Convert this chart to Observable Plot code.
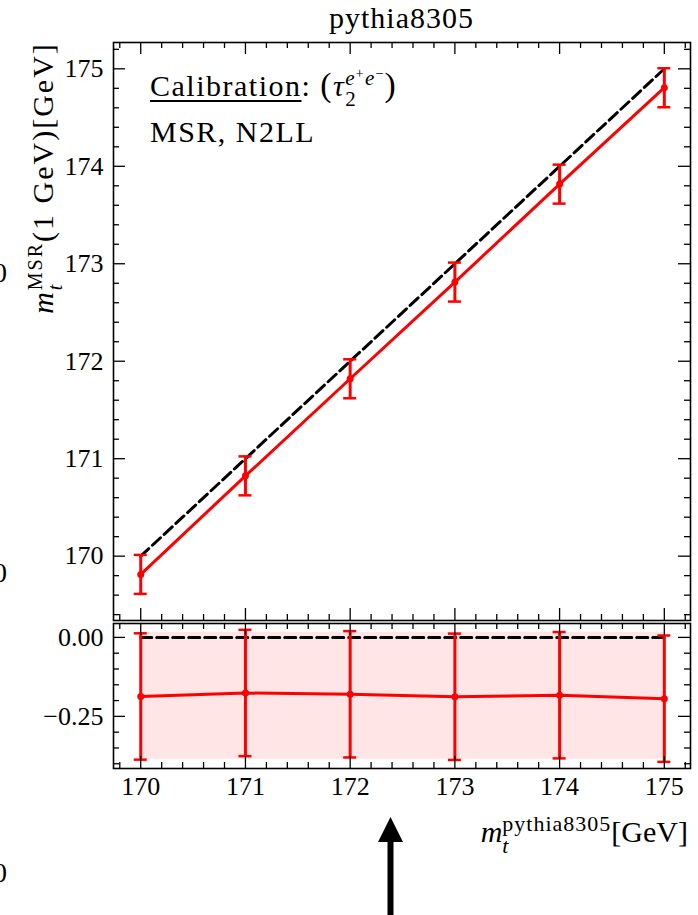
<!DOCTYPE html>
<html>
<head>
<meta charset="utf-8">
<script src="https://cdn.jsdelivr.net/npm/d3@7"></script>
<script src="https://cdn.jsdelivr.net/npm/@observablehq/plot@0.6"></script>
<style>
html, body { margin: 0; padding: 0; overflow: hidden; background: #fff; }
#wrap { position: relative; width: 698px; height: 915px; overflow: hidden;
  font-family: 'Liberation Serif', serif; color: #000; }
.abs { position: absolute; white-space: nowrap; line-height: 1; }
.ss { display: inline-flex; flex-direction: column; line-height: 1; position: relative; vertical-align: baseline; }
.up { position: relative; font-size: 0.7em; top: -0.45em; }
</style>
</head>
<body>
<div id="wrap"></div>
<script>
// ---- data ----
const massIn   = [170, 171, 172, 173, 174, 175];                       // m_t^pythia8305 [GeV]
const massCal  = [169.813, 170.824, 171.82, 172.812, 173.817, 174.806]; // calibrated MSR mass
const massErr  = [0.2, 0.2, 0.2, 0.2, 0.2, 0.2];
const diff     = [-0.187, -0.176, -0.18, -0.188, -0.183, -0.194];       // lower panel
const diffErr  = [0.2, 0.2, 0.2, 0.2, 0.2, 0.2];
const bandLow  = -0.386;
const bandHigh = 0.016;
const xTicks      = [170, 171, 172, 173, 174, 175];
const yTopTicks   = [170, 171, 172, 173, 174, 175];
const yBotTicks   = [0, -0.25];

// ---- layout ----
const W = 698, ML = 113, MR = 8;
const FW = W - ML - MR;
const xDomain = [169.74, 175.25];
const yTopDomain = [169.34, 175.27];
const yBotDomain = [-0.415, 0.044];
const RED = "#ff0000";

const rows = massIn.map((m, i) => ({m, cal: massCal[i], err: massErr[i], d: diff[i], de: diffErr[i]}));

const rnd = v => Math.round(v * 1000) / 1000;
const xMinor = d3.range(169.8, 175.21, 0.2).map(rnd).filter(v => !xTicks.includes(v));
const yTopMinor = d3.range(169.4, 175.21, 0.2).map(rnd).filter(v => !yTopTicks.includes(v));
const yBotMinor = d3.range(-0.4, 0.001, 0.05).map(rnd).filter(v => !yBotTicks.includes(v));

function frameTicks(xs, ys, fh, len) {
  const o = {stroke: "black", strokeWidth: 1.3};
  return [
    Plot.tickY(ys, {y: d => d, insetRight: FW - len, ...o}),
    Plot.tickY(ys, {y: d => d, insetLeft: FW - len, ...o}),
    Plot.tickX(xs, {x: d => d, insetBottom: fh - len, ...o}),
    Plot.tickX(xs, {x: d => d, insetTop: fh - len, ...o})
  ];
}

const style = {background: "transparent", fontFamily: "'Liberation Serif', serif", fontSize: "26px", overflow: "visible", color: "black"};
const DASH = {stroke: "black", strokeWidth: 3, strokeDasharray: "11,5"};

// ---- top panel ----
const topH = 622, topMT = 42, topMB = 2;
const topFH = topH - topMT - topMB;
const topPlot = Plot.plot({
  width: W, height: topH, marginLeft: ML, marginRight: MR, marginTop: topMT, marginBottom: topMB,
  x: {domain: xDomain, axis: null},
  y: {domain: yTopDomain},
  style,
  marks: [
    Plot.line(massIn, {x: d => d, y: d => d, ...DASH}),
    Plot.line(rows, {x: "m", y: "cal", stroke: RED, strokeWidth: 3}),
    Plot.ruleX(rows, {x: "m", y1: d => d.cal - d.err, y2: d => d.cal + d.err, stroke: RED, strokeWidth: 3}),
    Plot.ruleY(rows, {y: d => d.cal + d.err, x1: "m", x2: "m", insetLeft: -6.5, insetRight: -6.5, stroke: RED, strokeWidth: 2.5}),
    Plot.ruleY(rows, {y: d => d.cal - d.err, x1: "m", x2: "m", insetLeft: -6.5, insetRight: -6.5, stroke: RED, strokeWidth: 2.5}),
    Plot.dot(rows, {x: "m", y: "cal", r: 3.5, fill: RED}),
    ...frameTicks(xTicks, yTopTicks, topFH, 12),
    ...frameTicks(xMinor, yTopMinor, topFH, 6),
    Plot.axisY({ticks: yTopTicks, tickSize: 0, tickPadding: 10, label: null, fontSize: 26, tickFormat: d => String(d)}),
    Plot.frame({stroke: "black", strokeWidth: 1.6})
  ]
});

// ---- bottom panel ----
const botTop = 621, botH = 294, botMT = 2, botMB = 147;
const botFH = botH - botMT - botMB;
const botPlot = Plot.plot({
  width: W, height: botH, marginLeft: ML, marginRight: MR, marginTop: botMT, marginBottom: botMB,
  x: {domain: xDomain},
  y: {domain: yBotDomain},
  style,
  marks: [
    Plot.areaY(massIn, {x: d => d, y1: bandLow, y2: bandHigh, fill: RED, fillOpacity: 0.1}),
    Plot.line(massIn, {x: d => d, y: 0, ...DASH}),
    Plot.line(rows, {x: "m", y: "d", stroke: RED, strokeWidth: 3}),
    Plot.ruleX(rows, {x: "m", y1: d => d.d - d.de, y2: d => d.d + d.de, stroke: RED, strokeWidth: 3}),
    Plot.ruleY(rows, {y: d => d.d + d.de, x1: "m", x2: "m", insetLeft: -6.5, insetRight: -6.5, stroke: RED, strokeWidth: 2.5}),
    Plot.ruleY(rows, {y: d => d.d - d.de, x1: "m", x2: "m", insetLeft: -6.5, insetRight: -6.5, stroke: RED, strokeWidth: 2.5}),
    Plot.dot(rows, {x: "m", y: "d", r: 3.5, fill: RED}),
    ...frameTicks(xTicks, yBotTicks, botFH, 12),
    ...frameTicks(xMinor, yBotMinor, botFH, 6),
    Plot.axisY({ticks: yBotTicks, tickSize: 0, tickPadding: 10, label: null, fontSize: 26, tickFormat: d3.format(".2f")}),
    Plot.axisX({ticks: xTicks, tickSize: 0, tickPadding: 8, label: null, fontSize: 26, tickFormat: d => String(d)}),
    Plot.frame({stroke: "black", strokeWidth: 1.6})
  ]
});

const wrap = document.getElementById("wrap");
function place(node, top) {
  const d = document.createElement("div");
  d.style.position = "absolute"; d.style.left = "0px"; d.style.top = top + "px";
  d.appendChild(node); wrap.appendChild(d);
}
place(topPlot, 0);
place(botPlot, botTop);

// ---- texts ----
function addText(html, css) {
  const d = document.createElement("div");
  d.className = "abs";
  d.innerHTML = html;
  Object.assign(d.style, css);
  wrap.appendChild(d);
  return d;
}
addText("pythia8305", {left: "401.5px", top: "3px", fontSize: "30px", letterSpacing: "1px", transform: "translateX(-50%)"});
addText(
  '<span style="text-decoration:underline;text-decoration-thickness:2px;text-underline-offset:4px">Calibration</span>: ' +
  '<span style="font-size:1.12em">(</span><i>τ</i>' +
  '<span class="ss" style="font-size:21px;top:-11px;letter-spacing:1px"><span><i>e</i><span class="up">+</span><i>e</i><span class="up">−</span></span><span>2</span></span>' +
  '<span style="font-size:1.12em">)</span>',
  {left: "150px", top: "68px", fontSize: "30px", letterSpacing: "1.5px"});
addText("MSR, N2LL", {left: "150px", top: "117px", fontSize: "30px", letterSpacing: "1.5px"});
addText(
  '<i>m</i><span class="ss" style="font-size:20px;top:-11px"><span>MSR</span><span><i>t</i></span></span>(1 GeV)[GeV]',
  {left: "43px", top: "178px", height: "30px", fontSize: "30px", letterSpacing: "2px", transform: "translate(-50%,-50%) rotate(-90deg)"});
addText(
  '<i>m</i><span class="ss" style="font-size:22px;top:-11px;letter-spacing:1px"><span>pythia8305</span><span><i>t</i></span></span>[GeV]',
  {right: "10px", top: "817px", fontSize: "30px"});
// clipped labels at the left edge
for (const t of [259, 559, 859]) addText("0", {left: "-7px", top: t + "px", fontSize: "28px"});

// ---- arrow ----
const ns = "http://www.w3.org/2000/svg";
const svg = document.createElementNS(ns, "svg");
svg.setAttribute("width", W); svg.setAttribute("height", 915);
svg.style.position = "absolute"; svg.style.left = "0"; svg.style.top = "0";
svg.innerHTML = '<polygon points="378,842 403,842 390.5,817" fill="black"/><rect x="387.5" y="841" width="6" height="80" fill="black"/>';
wrap.appendChild(svg);
</script>
</body>
</html>
